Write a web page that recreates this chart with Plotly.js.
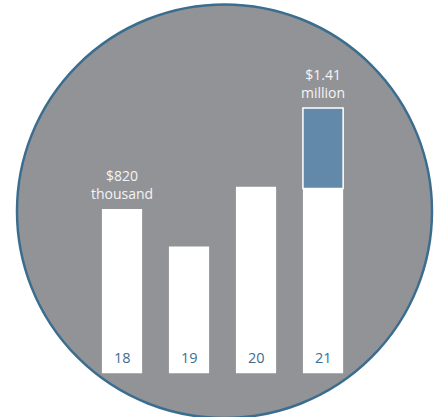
<!DOCTYPE html>
<html>
<head>
<meta charset="utf-8">
<script src="https://cdn.plot.ly/plotly-3.0.1.min.js"></script>
<style>html,body{margin:0;padding:0;background:#fff;}#chart{width:437px;height:417px;}</style>
</head>
<body>
<div id="chart"></div>
<script>
// Data (thousands of dollars)
const years = [18, 19, 20, 21];
const yearLabels = ['18', '19', '20', '21'];
const totals = [820, 600, 950, 1410];
const priorPart21 = 940;   // white portion of the 2021 bar
const valueLabels = ['$820<br>thousand', '', '', '$1.41<br>million'];

// style constants
const labelBase = -140; // bars extend below zero to hold the year labels
const gray = '#929397';
const ring = '#3b6d8f';
const blue = '#6389aa';
const yearColor = '#3f6d90';

const whiteBars = {
  type: 'bar', x: years,
  y: totals.map(v => v - labelBase), base: years.map(() => labelBase),
  width: 0.6, marker: {color: '#ffffff', line: {width: 0}},
  hoverinfo: 'skip'
};
const blueBar = {
  type: 'bar', x: [years[3]],
  y: [totals[3] - priorPart21], base: [priorPart21],
  width: 0.6, marker: {color: blue, line: {color: '#ffffff', width: 1.5}},
  hoverinfo: 'skip'
};

const annotations = [];
years.forEach((yr, i) => {
  if (valueLabels[i]) {
    annotations.push({x: yr, y: totals[i], xref: 'x', yref: 'y', text: valueLabels[i],
      showarrow: false, yanchor: 'bottom', yshift: 4,
      font: {family: 'Open Sans, sans-serif', size: 14, color: '#f4f4f4'}});
  }
  annotations.push({x: yr, y: 0.1415, xref: 'x', yref: 'paper', text: yearLabels[i],
    showarrow: false, yanchor: 'middle',
    font: {family: 'Open Sans, sans-serif', size: 14.5, color: yearColor}});
});

const layout = {
  width: 437, height: 417,
  margin: {l: 0, r: 0, t: 0, b: 0},
  paper_bgcolor: '#ffffff', plot_bgcolor: 'rgba(0,0,0,0)',
  showlegend: false, barmode: 'overlay',
  xaxis: {range: [16.179, 22.701], visible: false, fixedrange: true},
  yaxis: {range: [-395, 2040], visible: false, fixedrange: true},
  shapes: [{
    type: 'circle', xref: 'paper', yref: 'paper', layer: 'below',
    x0: 17/437, x1: 432/437, y0: 1 - 418/417, y1: 1 - 4.5/417,
    fillcolor: gray, line: {color: ring, width: 2.5}
  }],
  annotations: annotations
};

Plotly.newPlot('chart', [whiteBars, blueBar], layout, {displayModeBar: false, staticPlot: true});
</script>
</body>
</html>
